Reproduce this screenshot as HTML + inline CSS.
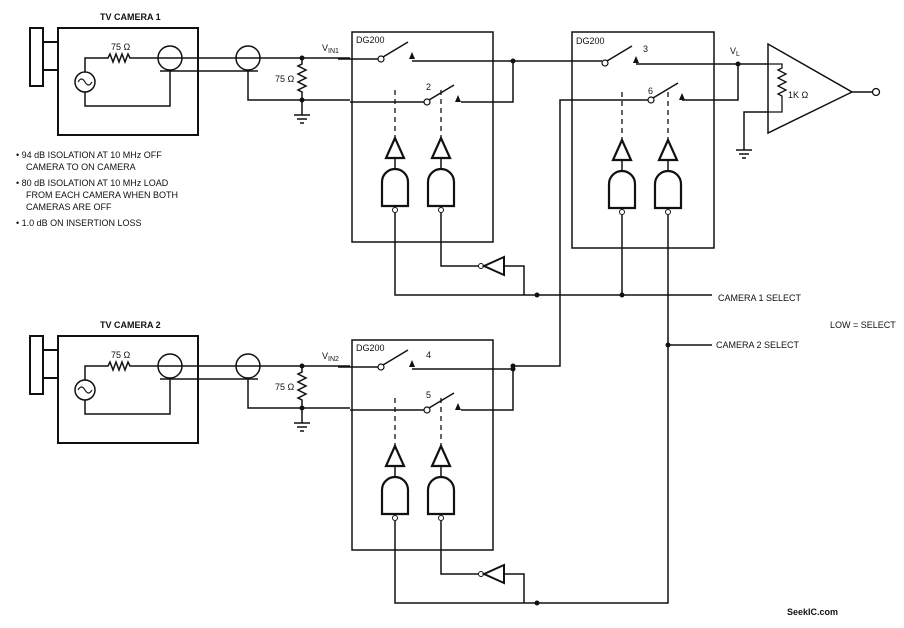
<!DOCTYPE html>
<html><head><style>
body{margin:0;background:#fff}
svg{display:block}
text{font-family:"Liberation Sans",sans-serif;font-size:9px;fill:#111}
</style></head><body>
<svg width="904" height="628" viewBox="0 0 904 628" xmlns="http://www.w3.org/2000/svg">
<defs>
<g id="cam">
  <rect x="30" y="28" width="13" height="58" fill="none" stroke="#111" stroke-width="2"/>
  <line x1="43" y1="42" x2="58" y2="42" stroke="#111" stroke-width="2"/>
  <line x1="43" y1="70" x2="58" y2="70" stroke="#111" stroke-width="2"/>
  <rect x="58" y="28" width="140" height="107" fill="none" stroke="#111" stroke-width="2"/>
  <circle cx="85" cy="82" r="10" fill="none" stroke="#111" stroke-width="1.5"/>
  <path d="M78,82 q3.5,-6 7,0 t7,0" fill="none" stroke="#111" stroke-width="1.2"/>
  <path d="M85,72 V58 H108 l2,-4 3,8 3,-8 3,8 3,-8 3,8 3,-8 2,4 H302" fill="none" stroke="#111" stroke-width="1.5"/>
  <path d="M85,92 V106 H170 V71" fill="none" stroke="#111" stroke-width="1.5"/>
  <circle cx="170" cy="58" r="12" fill="none" stroke="#111" stroke-width="1.5"/>
  <line x1="160" y1="71" x2="258" y2="71" stroke="#111" stroke-width="1.5"/>
  <circle cx="248" cy="58" r="12" fill="none" stroke="#111" stroke-width="1.5"/>
  <path d="M248,71 V100 H350" fill="none" stroke="#111" stroke-width="1.5"/>
  <path d="M302,58 V64 l-4,2 8,4 -8,4 8,4 -8,4 8,4 -8,4 4,2 V115" fill="none" stroke="#111" stroke-width="1.5"/>
  <line x1="302" y1="58" x2="350" y2="58" stroke="#111" stroke-width="1.5"/>
  <circle cx="302" cy="58" r="2.5" fill="#111"/><circle cx="302" cy="100" r="2.5" fill="#111"/>
  <line x1="294" y1="115" x2="310" y2="115" stroke="#111" stroke-width="1.5"/>
  <line x1="297" y1="119" x2="307" y2="119" stroke="#111" stroke-width="1.5"/>
  <line x1="300" y1="123" x2="304" y2="123" stroke="#111" stroke-width="1.5"/>
  <text x="111" y="50">75 Ω</text>
  <text x="275" y="82">75 Ω</text>
</g>
<g id="sw">
  <circle cx="0" cy="0" r="3" fill="#fff" stroke="#111" stroke-width="1.2"/>
  <line x1="2" y1="-2" x2="27" y2="-17" stroke="#111" stroke-width="1.5"/>
  <path d="M28,0 l3,-7 3,7z" fill="#111"/>
</g>
<g id="gate">
  <line x1="0" y1="-48" x2="0" y2="0" stroke="#111" stroke-width="1.3" stroke-dasharray="5,4"/>
  <path d="M0,0 l-9,20 h18z" fill="none" stroke="#111" stroke-width="2.2"/>
  <line x1="0" y1="20" x2="0" y2="32" stroke="#111" stroke-width="1.5"/>
  <path d="M-13,68 V44 a13,13 0 0 1 26,0 V68z" fill="none" stroke="#111" stroke-width="2.2"/>
  <circle cx="0" cy="72" r="2.5" fill="#fff" stroke="#111" stroke-width="1"/>
</g>
<g id="blk">
  <rect x="352" y="32" width="141" height="210" fill="none" stroke="#111" stroke-width="1.5"/>
  <text x="356" y="43">DG200</text>
  <use href="#sw" x="381" y="59"/>
  <use href="#sw" x="427" y="102"/>
  <line x1="338" y1="59" x2="378" y2="59" stroke="#111" stroke-width="1.5"/>
  <line x1="350" y1="102" x2="424" y2="102" stroke="#111" stroke-width="1.5"/>
  <path d="M412,61 H513 M461,102 H513 V61" fill="none" stroke="#111" stroke-width="1.5"/>
  <circle cx="513" cy="61" r="2.5" fill="#111"/>
  <use href="#gate" x="395" y="138"/>
  <use href="#gate" x="441" y="138"/>
  <path d="M441,213 V266 H478" fill="none" stroke="#111" stroke-width="1.5"/>
  <circle cx="481" cy="266" r="2.5" fill="#fff" stroke="#111"/>
  <path d="M484,266 l20,-9 v18z" fill="none" stroke="#111" stroke-width="2"/>
  <path d="M504,266 H524 V295" fill="none" stroke="#111" stroke-width="1.5"/>
  <path d="M395,213 V295 H537" fill="none" stroke="#111" stroke-width="1.5"/>
</g>
</defs>

<use href="#cam"/>
<use href="#cam" y="308"/>
<use href="#blk"/>
<use href="#blk" y="308"/>
<text x="100" y="20" font-weight="bold">TV CAMERA 1</text>
<text x="100" y="328" font-weight="bold">TV CAMERA 2</text>
<text x="322" y="51">V<tspan font-size="7" dy="2">IN1</tspan></text>
<text x="322" y="359">V<tspan font-size="7" dy="2">IN2</tspan></text>
<text x="426" y="90">2</text>
<text x="426" y="358">4</text>
<text x="426" y="398">5</text>
<g font-size="8.5">
<text x="16" y="158">•  94 dB ISOLATION AT 10 MHz OFF</text>
<text x="26" y="170">CAMERA TO ON CAMERA</text>
<text x="16" y="186">•  80 dB ISOLATION AT 10 MHz LOAD</text>
<text x="26" y="198">FROM EACH CAMERA WHEN BOTH</text>
<text x="26" y="210">CAMERAS ARE OFF</text>
<text x="16" y="226">•  1.0 dB ON INSERTION LOSS</text>
</g>

<!-- block 2 -->
<rect x="572" y="32" width="142" height="216" fill="none" stroke="#111" stroke-width="1.5"/>
<text x="576" y="44">DG200</text>
<text x="643" y="52">3</text><text x="648" y="94">6</text>
<use href="#sw" x="605" y="63"/>
<use href="#sw" x="651" y="100"/>
<path d="M513,61 H602" fill="none" stroke="#111" stroke-width="1.5"/>
<path d="M636,64 H768 M682,100 H738 V64" fill="none" stroke="#111" stroke-width="1.5"/>
<circle cx="738" cy="64" r="2.5" fill="#111"/>
<text x="730" y="54">V<tspan font-size="7" dy="2">L</tspan></text>
<path d="M648,100 H560 V366 H513" fill="none" stroke="#111" stroke-width="1.5"/>
<circle cx="513" cy="366" r="2.5" fill="#111"/>
<use href="#gate" x="622" y="140"/>
<use href="#gate" x="668" y="140"/>
<path d="M537,295 H712" fill="none" stroke="#111" stroke-width="1.5"/>
<path d="M622,215 V295" fill="none" stroke="#111" stroke-width="1.5"/>
<path d="M668,215 V603 H537" fill="none" stroke="#111" stroke-width="1.5"/>
<circle cx="537" cy="295" r="2.5" fill="#111"/><circle cx="622" cy="295" r="2.5" fill="#111"/>
<circle cx="537" cy="603" r="2.5" fill="#111"/><circle cx="668" cy="345" r="2.5" fill="#111"/>
<path d="M668,345 H712" fill="none" stroke="#111" stroke-width="1.5"/>
<text x="718" y="301">CAMERA 1 SELECT</text>
<text x="716" y="348">CAMERA 2 SELECT</text>
<text x="830" y="328">LOW = SELECT</text>

<!-- amp -->
<path d="M768,44 L852,92 L768,133z" fill="none" stroke="#111" stroke-width="1.5"/>
<path d="M768,64 H782 V68 l-4,2 8,4 -8,4 8,4 -8,4 8,4 -8,4 4,2 V112 H768" fill="none" stroke="#111" stroke-width="1.3"/>
<text x="788" y="98">1K Ω</text>
<path d="M768,112 H744 V150" fill="none" stroke="#111" stroke-width="1.5"/>
<line x1="736" y1="150" x2="752" y2="150" stroke="#111" stroke-width="1.5"/>
<line x1="739" y1="154" x2="749" y2="154" stroke="#111" stroke-width="1.5"/>
<line x1="742" y1="158" x2="746" y2="158" stroke="#111" stroke-width="1.5"/>
<line x1="852" y1="92" x2="872" y2="92" stroke="#111" stroke-width="1.5"/>
<circle cx="876" cy="92" r="3.5" fill="#fff" stroke="#111" stroke-width="1.3"/>
<text x="787" y="615" font-size="15" font-weight="bold">SeekIC.com</text>
</svg>
</body></html>
